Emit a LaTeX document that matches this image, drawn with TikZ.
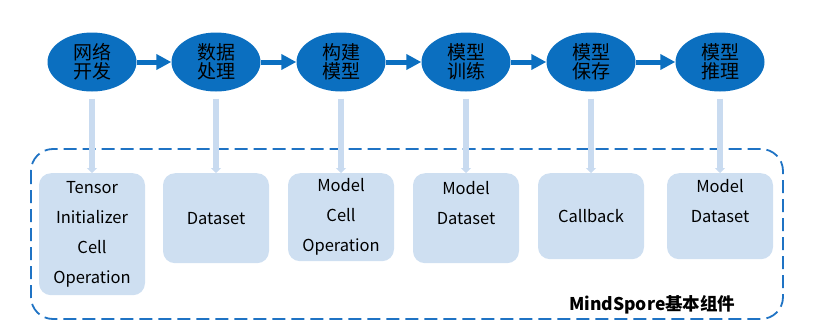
\documentclass[tikz,border=0pt]{standalone}
\usepackage{fontspec}
\setmainfont{Noto Sans CJK SC}
\usetikzlibrary{arrows.meta,positioning,shapes.geometric}
\definecolor{stage}{HTML}{0B6FC0}
\definecolor{link}{HTML}{C9DBF0}
\definecolor{part}{HTML}{CEDFF1}
\definecolor{frame}{HTML}{1F73C4}

\begin{document}
\begin{tikzpicture}[x=1pt, y=-1pt,
  stagenode/.style={ellipse, fill=stage, minimum width=89pt, minimum height=59pt,
              inner sep=0pt, align=center, font=\fontsize{19}{19}\selectfont},
  partbox/.style={rounded corners=12pt, fill=part, text width=106pt, anchor=north,
              align=center, inner sep=0pt, minimum height=88pt,
              font=\fontsize{16.5}{30}\selectfont},
  flow/.style={-{Triangle[length=15pt, width=15pt]}, line width=5pt, stage},
  uses/.style={-{Triangle[length=5pt, width=10pt]}, line width=6pt, link,
              shorten <=7pt}
]
  \useasboundingbox (0,0) rectangle (820,327);

  % frame of the basic components
  \draw[frame, line width=1.8pt, dash pattern=on 13pt off 6pt, rounded corners=22pt]
    (31,149) rectangle (783,319);
  \node[anchor=east, font=\bfseries\fontsize{17.5}{17.5}\selectfont] (core) at (739,305)
    {MindSpore基本组件};

  % workflow stages
  \node[stagenode] (net)   at (92,62)  {网络\\开发};
  \node[stagenode] (data)  at (216,62) {数据\\处理};
  \node[stagenode] (build) at (341,62) {构建\\模型};
  \node[stagenode] (train) at (466,62) {模型\\训练};
  \node[stagenode] (save)  at (591,62) {模型\\保存};
  \node[stagenode] (infer) at (720,62) {模型\\推理};

  \draw[flow] (net)   -- (data);
  \draw[flow] (data)  -- (build);
  \draw[flow] (build) -- (train);
  \draw[flow] (train) -- (save);
  \draw[flow] (save)  -- (infer);

  % components used by each stage
  \node[partbox, minimum height=122pt] (net-part) at (92,173)
    {Tensor\\Initializer\\Cell\\Operation};
  \node[partbox, minimum height=90pt] (data-part)  at (216,173) {Dataset};
  \node[partbox] (build-part) at (341,173) {Model\\Cell\\Operation};
  \node[partbox, minimum height=90pt] (train-part) at (466,173) {Model\\Dataset\\~};
  \node[partbox, minimum height=86pt] (save-part)  at (591,173) {Callback};
  \node[partbox, minimum height=86pt] (infer-part) at (720,173) {Model\\Dataset\\~};

  \draw[uses] (net)   -- (net-part);
  \draw[uses] (data)  -- (data-part);
  \draw[uses] (build) -- (build-part);
  \draw[uses] (train) -- (train-part);
  \draw[uses] (save)  -- (save-part);
  \draw[uses] (infer) -- (infer-part);
\end{tikzpicture}
\end{document}
